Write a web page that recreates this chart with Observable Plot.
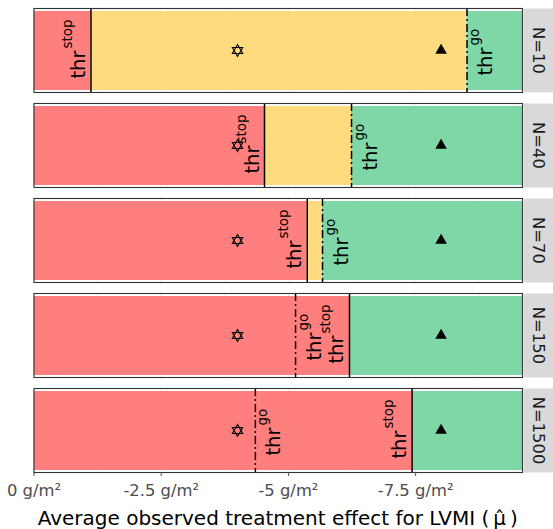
<!DOCTYPE html>
<html><head><meta charset="utf-8">
<script src="https://cdn.jsdelivr.net/npm/d3@7"></script>
<script src="https://cdn.jsdelivr.net/npm/@observablehq/plot@0.6"></script>
<style>
body{margin:0;background:#fff;font-family:"DejaVu Sans",sans-serif}
#chart svg{display:block}
#title{box-sizing:border-box;width:553px;padding-left:33.5px;padding-right:31px;height:26px;line-height:26px;padding-top:2px;text-align:center;font-size:20px;color:#000;white-space:nowrap}
</style>
</head><body><div id="chart"></div><div id="title"></div>
<script>
// ---- data ----
const sampleSizes = ["N=10", "N=40", "N=70", "N=150", "N=1500"];
const thrStop = [-1.12, -4.53, -5.37, -6.20, -7.43];
const thrGo   = [-8.51, -6.24, -5.67, -5.14, -4.35];
const observedEffect = [-4.0];   // hexagram marker
const targetEffect = [-8.0];     // triangle marker
const xDomain = [0, -9.6];
const xTicks = [0, -2.5, -5, -7.5];
const xTickLabels = ["0 g/m²", "-2.5 g/m²", "-5 g/m²", "-7.5 g/m²"];
const xMinorTicks = [-1.25, -3.75, -6.25, -8.75];
const zoneNames = ["stop", "uncertain", "go"];
const zoneColors = ["#FF7F7F", "#FEDB7E", "#7FD6A7"];
const axisTitle = "Average observed treatment effect for LVMI (\u2009μ̂\u2009)";

// ---- derived tables ----
const zones = [];
sampleSizes.forEach((n, i) => {
  const s = thrStop[i], g = thrGo[i];
  zones.push({n, zone: "stop", x1: xDomain[0], x2: s});
  if (g < s) {
    zones.push({n, zone: "uncertain", x1: s, x2: g});
    zones.push({n, zone: "go", x1: g, x2: xDomain[1]});
  } else {
    zones.push({n, zone: "go", x1: s, x2: xDomain[1]});
  }
});
const stopRows = sampleSizes.map((n, i) => ({n, value: thrStop[i]}));
const goRows = sampleSizes.map((n, i) => ({n, value: thrGo[i]}));

const hexagram = {
  draw(ctx, size) {
    const r = Math.sqrt(size / Math.PI);
    for (const off of [-Math.PI / 2, Math.PI / 2]) {
      for (let k = 0; k < 3; k++) {
        const a = off + k * 2 * Math.PI / 3;
        const px = r * Math.cos(a), py = r * Math.sin(a);
        if (k === 0) ctx.moveTo(px, py); else ctx.lineTo(px, py);
      }
      ctx.closePath();
    }
  }
};

const W = 553, H = 503, mL = 33.5, mR = 31, mT = 7, mB = 31;
const innerW = W - mL - mR;
const thrSize = 19.5, supSize = 13.5;
const mid = () => 0.5;

const chart = Plot.plot({
  width: W, height: H,
  marginLeft: mL, marginRight: mR, marginTop: mT, marginBottom: mB,
  style: {fontFamily: "DejaVu Sans, sans-serif", background: "#fff"},
  x: {domain: xDomain, axis: null},
  y: {domain: [0, 1], axis: null},
  fy: {domain: sampleSizes, paddingInner: 0.12, paddingOuter: 0, axis: null},
  color: {domain: zoneNames, range: zoneColors},
  marks: [
    Plot.ruleX(xTicks, {stroke: "#EBEBEB", strokeWidth: 1.1}),
    Plot.ruleX(xMinorTicks, {stroke: "#EBEBEB", strokeWidth: 0.6}),
    Plot.rectX(zones, {x1: "x1", x2: "x2", y1: () => 0, y2: () => 1, fy: "n", fill: "zone", insetTop: 3, insetBottom: 2}),
    Plot.ruleX(stopRows, {x: "value", fy: "n", stroke: "#000", strokeWidth: 1.5}),
    Plot.ruleX(goRows, {x: "value", fy: "n", stroke: "#000", strokeWidth: 1.5, strokeDasharray: "8,3,2,3"}),
    Plot.dot(observedEffect, {x: d => d, y: mid, symbol: hexagram, r: 6, stroke: "#000", strokeWidth: 1.1, fill: "none"}),
    Plot.dot(targetEffect, {x: d => d, y: mid, symbol: "triangle", r: 4.3, fill: "#000", stroke: "none"}),
    // threshold labels: thr^stop (left of line), thr^go (right of line)
    Plot.text(stopRows, {x: "value", y: mid, fy: "n", text: () => "thr", rotate: -90, textAnchor: "end", lineAnchor: "bottom", dx: -6, dy: 0, fontSize: thrSize, fill: "#000"}),
    Plot.text(stopRows, {x: "value", y: mid, fy: "n", text: () => "stop", rotate: -90, textAnchor: "start", lineAnchor: "bottom", dx: -19, dy: -2, fontSize: supSize, fill: "#000"}),
    Plot.text(goRows, {x: "value", y: mid, fy: "n", text: () => "thr", rotate: -90, textAnchor: "end", lineAnchor: "bottom", dx: 25, dy: -3, fontSize: thrSize, fill: "#000"}),
    Plot.text(goRows, {x: "value", y: mid, fy: "n", text: () => "go", rotate: -90, textAnchor: "start", lineAnchor: "bottom", dx: 12, dy: -5, fontSize: supSize, fill: "#000"}),
    Plot.frame({stroke: "#333333", strokeWidth: 1.1}),
    // facet strips
    Plot.frame({fill: "#D9D9D9", stroke: "none", insetLeft: innerW + 1, insetRight: -mR}),
    Plot.text(sampleSizes, {fy: d => d, text: d => d, frameAnchor: "right", textAnchor: "middle", lineAnchor: "middle", dx: 16, rotate: 90, fontSize: 16.4, fill: "#1A1A1A"}),
    Plot.axisX(xTicks, {tickFormat: d => xTickLabels[xTicks.indexOf(d)], tickSize: 4, tickPadding: 8, fontSize: 16.4, color: "#4D4D4D", label: null})
  ]
});
document.getElementById("chart").appendChild(chart);
document.getElementById("title").textContent = axisTitle;
</script>
</body></html>
